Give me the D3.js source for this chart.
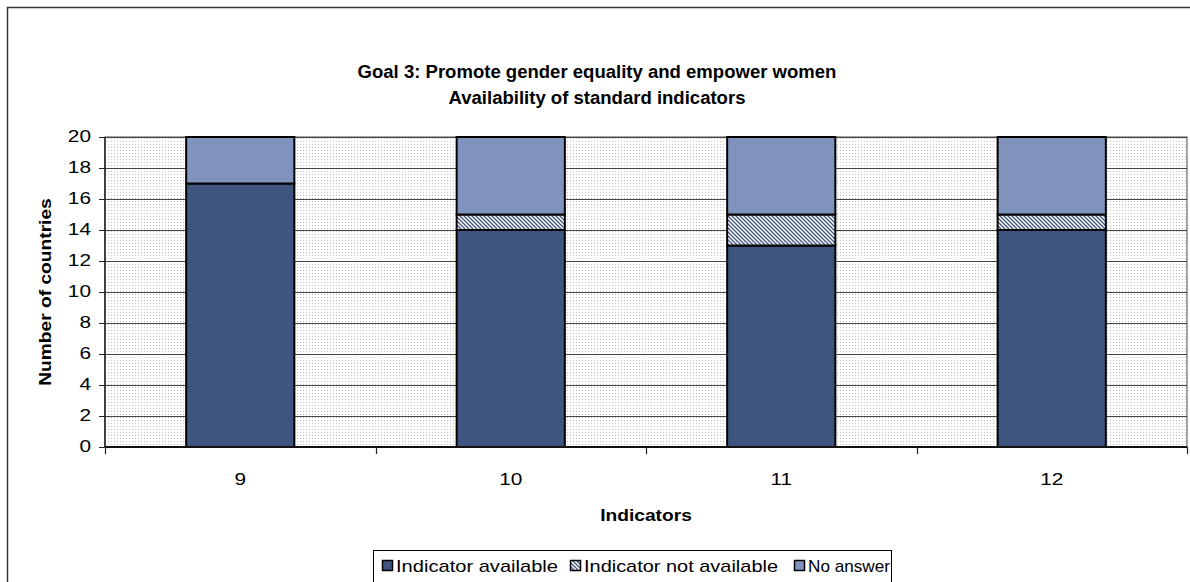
<!DOCTYPE html>
<html>
<head>
<meta charset="utf-8">
<script src="https://cdn.jsdelivr.net/npm/d3@7"></script>
<style>
  html, body { margin: 0; padding: 0; background: #fff; }
  svg { display: block; font-family: Arial, "Liberation Sans", sans-serif; }
</style>
</head>
<body>
<svg id="chart" width="1190" height="582"></svg>
<script>
// Indicator numbers on the x axis
const categories = ["9", "10", "11", "12"];
// Number of countries per answer type
const available = [17, 14, 13, 14];
const notAvailable = [0, 1, 2, 1];
const noAnswer = [3, 5, 5, 5];
const seriesNames = ["Indicator available", "Indicator not available", "No answer"];
const yTicks = [0, 2, 4, 6, 8, 10, 12, 14, 16, 18, 20];

const svg = d3.select("#chart");
const defs = svg.append("defs");

// Fine dotted fill for the plot area
const dots = defs.append("pattern").attr("id", "dots")
  .attr("width", 3).attr("height", 3).attr("patternUnits", "userSpaceOnUse");
dots.append("rect").attr("width", 3).attr("height", 3).attr("fill", "#ffffff");
dots.append("rect").attr("width", 1).attr("height", 1).attr("fill", "#c4c4c4");

// Diagonal hatch for "not available"
const hatch = defs.append("pattern").attr("id", "hatch")
  .attr("width", 4).attr("height", 4).attr("patternUnits", "userSpaceOnUse");
hatch.append("rect").attr("width", 4).attr("height", 4).attr("fill", "#ffffff");
hatch.append("path").attr("d", "M-1,-1 L5,5 M-3,1 L1,5 M3,-1 L7,3")
  .attr("stroke", "#3f547f").attr("stroke-width", 1.3).attr("fill", "none");

const fills = ["#3f547f", "url(#hatch)", "#7f93bd"];

// Horizontally widened text helper
function wide(sel, sx) {
  return sel.attr("transform", function () {
    const xx = +d3.select(this).attr("x"), yy = +d3.select(this).attr("y");
    return `translate(${xx},${yy}) scale(${sx},1) translate(${-xx},${-yy})`;
  });
}

// Outer chart frame
svg.append("rect").attr("x", 7.5).attr("y", 7.5).attr("width", 1190).attr("height", 600)
  .attr("fill", "none").attr("stroke", "#333").attr("stroke-width", 1.5);

const plot = { left: 105, right: 1187, top: 137, bottom: 447 };

const x = d3.scaleBand().domain(categories)
  .range([plot.left, plot.right]).paddingInner(0.6).paddingOuter(0.3);
const y = d3.scaleLinear().domain([0, 20]).range([plot.bottom, plot.top]);

// Plot background
svg.append("rect").attr("x", plot.left).attr("y", plot.top)
  .attr("width", plot.right - plot.left).attr("height", plot.bottom - plot.top)
  .attr("fill", "url(#dots)").attr("stroke", "#888").attr("stroke-width", 1.5);

// Horizontal gridlines
svg.append("g").selectAll("line").data(yTicks.filter(d => d > 0)).join("line")
  .attr("x1", plot.left).attr("x2", plot.right)
  .attr("y1", d => Math.round(y(d)) + 0.5).attr("y2", d => Math.round(y(d)) + 0.5)
  .attr("stroke", "#444").attr("stroke-width", 1);

// Y axis
svg.append("line").attr("x1", plot.left).attr("x2", plot.left)
  .attr("y1", plot.top).attr("y2", plot.bottom).attr("stroke", "#222").attr("stroke-width", 1.5);
svg.append("g").selectAll("line").data(yTicks).join("line")
  .attr("x1", plot.left - 6).attr("x2", plot.left)
  .attr("y1", d => Math.round(y(d)) + 0.5).attr("y2", d => Math.round(y(d)) + 0.5)
  .attr("stroke", "#222");
wide(svg.append("g").selectAll("text").data(yTicks).join("text")
  .attr("x", 91).attr("y", d => y(d) + 5.5)
  .attr("text-anchor", "end").attr("font-size", 16).attr("fill", "#000")
  .text(d => d), 1.3);

// Stacked bars
const stackData = categories.map((c, i) => ({
  cat: c, a: available[i], n: notAvailable[i], o: noAnswer[i]
}));
const stack = d3.stack().keys(["a", "n", "o"])(stackData);
stack.forEach((layer, k) => {
  svg.append("g").selectAll("rect").data(layer).join("rect")
    .attr("x", d => x(d.data.cat))
    .attr("y", d => y(d[1]))
    .attr("width", x.bandwidth())
    .attr("height", d => y(d[0]) - y(d[1]))
    .attr("fill", fills[k])
    .attr("stroke", "#000").attr("stroke-width", 2)
    .attr("display", d => (d[1] - d[0]) > 0 ? null : "none");
});

// X axis with ticks between categories
const step = x.step();
const bounds = d3.range(categories.length + 1).map(i => plot.left + i * step);
svg.append("line").attr("x1", plot.left).attr("x2", plot.right)
  .attr("y1", plot.bottom).attr("y2", plot.bottom)
  .attr("stroke", "#111").attr("stroke-width", 2);
svg.append("g").selectAll("line").data(bounds).join("line")
  .attr("x1", d => Math.round(d) + 0.5).attr("x2", d => Math.round(d) + 0.5)
  .attr("y1", plot.bottom).attr("y2", plot.bottom + 7)
  .attr("stroke", "#222").attr("stroke-width", 1.2);
wide(svg.append("g").selectAll("text").data(categories).join("text")
  .attr("x", d => x(d) + x.bandwidth() / 2).attr("y", 485)
  .attr("text-anchor", "middle").attr("font-size", 16).attr("fill", "#000")
  .text(d => d), 1.3);

// Titles
wide(svg.append("text").attr("x", 597).attr("y", 78).attr("text-anchor", "middle")
  .attr("font-size", 18).attr("font-weight", "bold")
  .text("Goal 3: Promote gender equality and empower women"), 1.03);
wide(svg.append("text").attr("x", 597).attr("y", 104).attr("text-anchor", "middle")
  .attr("font-size", 18).attr("font-weight", "bold")
  .text("Availability of standard indicators"), 1.03);

wide(svg.append("text").attr("x", 646).attr("y", 521).attr("text-anchor", "middle")
  .attr("font-size", 16).attr("font-weight", "bold").text("Indicators"), 1.2);

svg.append("text")
  .attr("transform", `translate(51,${(plot.top + plot.bottom) / 2}) rotate(-90) scale(1.2,1)`)
  .attr("text-anchor", "middle").attr("font-size", 16).attr("font-weight", "bold")
  .text("Number of countries");

// Legend
const legend = svg.append("g");
legend.append("rect").attr("x", 373.5).attr("y", 550.5).attr("width", 518).attr("height", 45)
  .attr("fill", "#fff").attr("stroke", "#000").attr("stroke-width", 1);
const legendX = [382, 570, 794];
const legendTextWidth = [162, 194, 82];
seriesNames.forEach((name, k) => {
  legend.append("rect").attr("x", legendX[k] + 0.5).attr("y", 560.5).attr("width", 10).attr("height", 10)
    .attr("fill", fills[k]).attr("stroke", "#000").attr("stroke-width", 1.5);
  legend.append("text").attr("x", legendX[k] + 14).attr("y", 572)
    .attr("font-size", 17).attr("fill", "#000")
    .attr("textLength", legendTextWidth[k]).attr("lengthAdjust", "spacingAndGlyphs")
    .text(name);
});
</script>
</body>
</html>
